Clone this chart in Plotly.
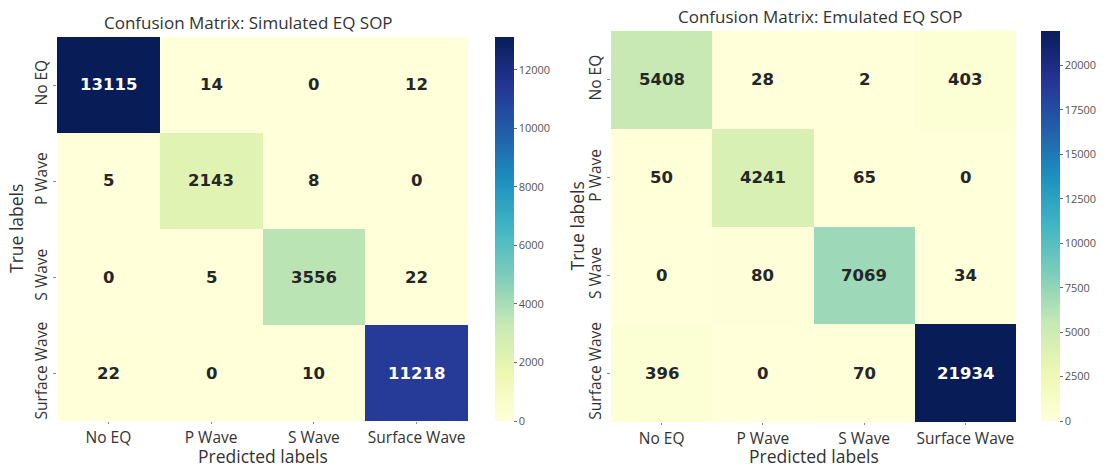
import plotly.graph_objects as go

labels = ["No EQ", "P Wave", "S Wave", "Surface Wave"]

sim_values = [
    [13115, 14, 0, 12],
    [5, 2143, 8, 0],
    [0, 5, 3556, 22],
    [22, 0, 10, 11218],
]
emu_values = [
    [5408, 28, 2, 403],
    [50, 4241, 65, 0],
    [0, 80, 7069, 34],
    [396, 0, 70, 21934],
]
sim_title = "Confusion Matrix: Simulated EQ SOP"
emu_title = "Confusion Matrix: Emulated EQ SOP"
sim_cbar_ticks = [0, 2000, 4000, 6000, 8000, 10000, 12000]
emu_cbar_ticks = [0, 2500, 5000, 7500, 10000, 12500, 15000, 17500, 20000]

ylgnbu = ["#ffffd9", "#edf8b1", "#c7e9b4", "#7fcdbb", "#41b6c4",
          "#1d91c0", "#225ea8", "#253494", "#081d58"]
scale = [[i / 8, c] for i, c in enumerate(ylgnbu)]

W, H = 1106, 468
FONT = "Open Sans"
NUMFONT = "DejaVu Sans"

def px(v):
    return v / W

def py(v):
    return 1 - v / H

panels = [
    dict(vals=sim_values, title=sim_title, ticks=sim_cbar_ticks,
         x0=57, x1=468, y0=37, y1=421, cbx=495, cb_t=37, cb_b=421,
         title_x=248, title_y=22, ylab_x=16, xlab_y=456, xa="x", ya="y"),
    dict(vals=emu_values, title=emu_title, ticks=emu_cbar_ticks,
         x0=611, x1=1016, y0=31, y1=422, cbx=1041, cb_t=31, cb_b=421,
         title_x=820, title_y=17, ylab_x=576, xlab_y=456, xa="x2", ya="y2"),
]

fig = go.Figure()
annotations = []
layout = {}
for i, p in enumerate(panels):
    vals = p["vals"]
    zmax = max(max(r) for r in vals)
    cb_len = (p["cb_b"] - p["cb_t"]) / H
    cb_y = py((p["cb_t"] + p["cb_b"]) / 2)
    fig.add_trace(go.Heatmap(
        z=vals, x=labels, y=labels, xaxis=p["xa"], yaxis=p["ya"],
        colorscale=scale, zmin=0, zmax=zmax, xgap=0, ygap=0,
        hoverinfo="skip",
        colorbar=dict(
            x=px(p["cbx"]), xanchor="left", y=cb_y, yanchor="middle",
            len=cb_len, lenmode="fraction", thickness=19, xpad=0, ypad=0,
            tickvals=p["ticks"], tickformat="d", ticks="outside", ticklen=3,
            tickcolor="#666", outlinewidth=0,
            tickfont=dict(family=FONT, size=11, color="#555"),
        ),
    ))
    axn = "" if i == 0 else "2"
    layout["xaxis" + axn] = dict(
        domain=[px(p["x0"]), px(p["x1"])], anchor=p["ya"],
        ticks="outside", ticklen=2, tickcolor="#888", showgrid=False,
        zeroline=False, showline=False,
        tickfont=dict(family=FONT, size=15.5, color="#333"),
    )
    layout["yaxis" + axn] = dict(
        domain=[py(p["y1"]), py(p["y0"])], anchor=p["xa"],
        autorange="reversed", tickangle=-90,
        ticks="outside", ticklen=3, tickcolor="#888", showgrid=False,
        zeroline=False, showline=False,
        tickfont=dict(family=FONT, size=15.5, color="#333"),
    )
    for r, row in enumerate(vals):
        for c, v in enumerate(row):
            color = "white" if v > 0.6 * zmax else "#262626"
            annotations.append(dict(
                x=labels[c], y=labels[r], xref=p["xa"], yref=p["ya"],
                text="<b>%d</b>" % v, showarrow=False,
                font=dict(family=NUMFONT, size=16.5, color=color),
            ))
    annotations.append(dict(
        x=px(p["title_x"]), y=py(p["title_y"]), xref="paper", yref="paper",
        text=p["title"], showarrow=False, xanchor="center", yanchor="middle",
        font=dict(family=FONT, size=17, color="#333"),
    ))
    annotations.append(dict(
        x=px((p["x0"] + p["x1"]) / 2), y=py(p["xlab_y"]), xref="paper", yref="paper",
        text="Predicted labels", showarrow=False, xanchor="center", yanchor="middle",
        font=dict(family=FONT, size=17.5, color="#333"),
    ))
    annotations.append(dict(
        x=px(p["ylab_x"]), y=py((p["y0"] + p["y1"]) / 2), xref="paper", yref="paper",
        text="True labels", showarrow=False, textangle=-90,
        xanchor="center", yanchor="middle",
        font=dict(family=FONT, size=17.5, color="#333"),
    ))

fig.update_layout(
    width=W, height=H,
    margin=dict(l=0, r=0, t=0, b=0),
    paper_bgcolor="white", plot_bgcolor="white",
    annotations=annotations,
    showlegend=False,
    **layout,
)

fig.write_html(
    "out.html",
    config={"displayModeBar": False},
    post_script="document.body.style.margin='0';document.body.style.overflow='hidden';",
)
